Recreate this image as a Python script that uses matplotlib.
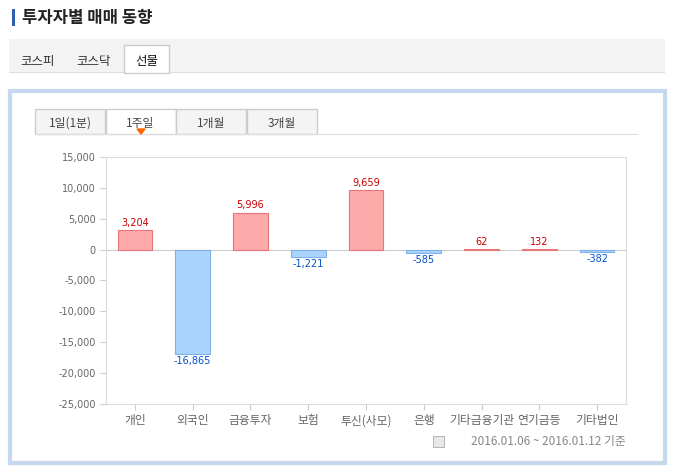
import matplotlib.pyplot as plt
from matplotlib.patches import Rectangle, Polygon
import numpy as np

plt.rcParams["font.family"] = ["Noto Sans CJK JP", "Noto Sans CJK KR", "Noto Sans CJK SC", "DejaVu Sans"]

categories = ["개인", "외국인", "금융투자", "보험", "투신(사모)", "은행", "기타금융기관", "연기금등", "기타법인"]
values = [3204, -16865, 5996, -1221, 9659, -585, 62, 132, -382]
yticks = [15000, 10000, 5000, 0, -5000, -10000, -15000, -20000, -25000]

W, H = 676, 476
fig = plt.figure(figsize=(W / 100, H / 100), dpi=100)

def px(x, y, w, h):
    return (x / W, 1 - (y + h) / H, w / W, h / H)

def rect(x, y, w, h, fc, ec="none", lw=1):
    l, b, ww, hh = px(x, y, w, h)
    fig.patches.append(Rectangle((l, b), ww, hh, transform=fig.transFigure,
                                 facecolor=fc, edgecolor=ec, linewidth=lw, zorder=-5))

def txt(x, y, s, **kw):
    fig.text(x / W, 1 - y / H, s, **kw)

# header
rect(12, 9, 3, 17, "#2f5fb3")
txt(22, 18, "투자자별 매매 동향", fontsize=12, fontweight="bold", va="center", color="#222222")
# market tabs
rect(9, 39, 656, 34, "#f3f3f3")
rect(9, 72, 656, 1, "#dddddd")
rect(124, 45, 45, 28, "white", "#cccccc")
txt(38, 61, "코스피", fontsize=9, ha="center", va="center", color="#333333")
txt(94, 61, "코스닥", fontsize=9, ha="center", va="center", color="#333333")
txt(147, 61, "선물", fontsize=9, ha="center", va="center", color="#111111")
# chart frame
rect(10, 91, 655, 372, "white", "#c5d8ee", lw=3)
# period tabs
tabs = ["1일(1분)", "1주일", "1개월", "3개월"]
for i, t in enumerate(tabs):
    x0 = 35 + i * 70.5
    rect(x0, 109, 70, 25, "white" if i == 1 else "#f4f4f4", "#cccccc")
    txt(x0 + 35, 123, t, fontsize=8.5, ha="center", va="center", color="#444444")
rect(35, 134, 603, 1, "#dddddd")
tri = Polygon([((141 - 4) / W, 1 - 129 / H), ((141 + 4) / W, 1 - 129 / H), (141 / W, 1 - 134 / H)],
              closed=True, transform=fig.transFigure, color="#ff6600", zorder=-4)
fig.patches.append(tri)

# plot
ax = fig.add_axes(px(106, 157, 520, 247))
ax.set_zorder(5)
ax.patch.set_alpha(0)
x = np.arange(len(categories))
pos = np.array(values) >= 0
ax.bar(x, values, width=0.6,
       color=["#ffaaaa" if p else "#aad4ff" for p in pos],
       edgecolor=["#e57777" if p else "#7fb0e6" for p in pos], linewidth=0.8)
for xi, v, p in zip(x, values, pos):
    ax.text(xi, v + (350 if p else -350), f"{v:,}", ha="center",
            va="bottom" if p else "top", fontsize=7,
            color="#cc0000" if p else "#0050c8", family="DejaVu Sans")
ax.set_xlim(-0.5, len(categories) - 0.5)
ax.set_ylim(-25000, 15000)
ax.set_yticks(yticks)
ax.set_yticklabels([f"{v:,}" for v in yticks], fontsize=7, color="#666666", family="DejaVu Sans")
ax.set_xticks(x)
ax.set_xticklabels(categories, fontsize=8.5, color="#777777")
ax.axhline(0, color="#cccccc", linewidth=0.8, zorder=0)
for s in ax.spines.values():
    s.set_color("#dddddd")
ax.tick_params(colors="#cccccc", length=4, labelcolor="#666666")

txt(626, 442, "2016.01.06 ~ 2016.01.12 기준", fontsize=8.5, ha="right", va="center", color="#888888")
rect(433, 436, 11, 11, "#e8e8e8", "#aaaaaa", lw=0.6)

fig.savefig("out.png", dpi=100)
